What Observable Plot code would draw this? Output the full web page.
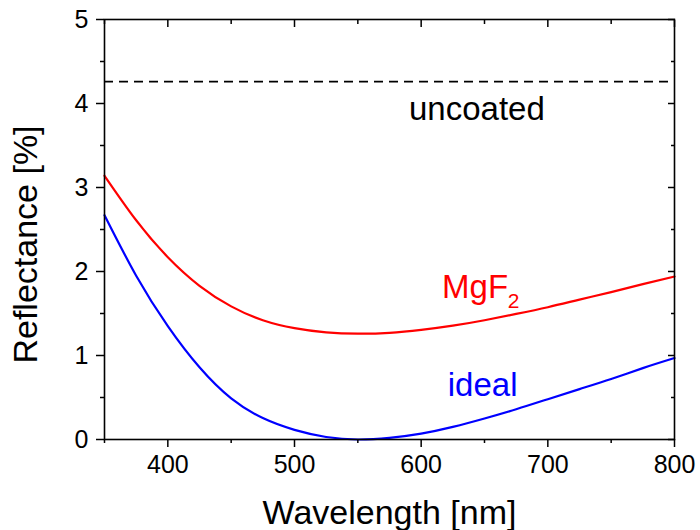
<!DOCTYPE html>
<html>
<head>
<meta charset="utf-8">
<script src="https://cdn.jsdelivr.net/npm/d3@7"></script>
<script src="https://cdn.jsdelivr.net/npm/@observablehq/plot@0.6"></script>
<style>
  html, body { margin: 0; padding: 0; background: #fff; }
</style>
</head>
<body>
<div id="chart"></div>
<script>
const wavelengths = [350,375,400,425,450,475,500,525,550,575,600,625,650,675,700,725,750,775,800];
const mgf2Reflectance = [3.14,2.61,2.17,1.83,1.585,1.42,1.325,1.275,1.26,1.27,1.305,1.355,1.42,1.495,1.575,1.665,1.755,1.85,1.94];
const idealReflectance = [2.67,1.95,1.35,0.86,0.49,0.255,0.115,0.03,0.00,0.02,0.07,0.15,0.25,0.36,0.48,0.60,0.72,0.85,0.97];
const uncoatedLevel = [4.26];
const xMajorTicks = [400,500,600,700,800];
const xMinorTicks = [350,450,550,650,750];
const yMajorTicks = [0,1,2,3,4,5];
const yMinorTicks = [0.5,1.5,2.5,3.5,4.5];
const centeredLabels = [{text: "uncoated", x: 644, y: 3.80, color: "black"}];
const startLabels = [
  {text: "MgF", x: 616.5, y: 1.69, color: "red"},
  {text: "ideal", x: 621, y: 0.52, color: "blue"}
];
const subscriptLabels = [{text: "2", x: 668.3, y: 1.565, color: "red"}];

const mgf2 = wavelengths.map((w, i) => ({w, r: mgf2Reflectance[i]}));
const ideal = wavelengths.map((w, i) => ({w, r: idealReflectance[i]}));

const chart = Plot.plot({
  width: 700,
  height: 530,
  marginLeft: 104,
  marginRight: 26,
  marginTop: 19,
  marginBottom: 91,
  x: {domain: [350, 800]},
  y: {domain: [0, 5]},
  style: {fontFamily: "'Liberation Sans', Arial, sans-serif", background: "white", color: "black"},
  marks: [
    Plot.ruleY(uncoatedLevel, {stroke: "black", strokeWidth: 1.6, strokeDasharray: "9,6"}),
    Plot.line(mgf2, {x: "w", y: "r", stroke: "#ff0000", strokeWidth: 2.2, curve: "natural"}),
    Plot.line(ideal, {x: "w", y: "r", stroke: "#0000ff", strokeWidth: 2.2, curve: "natural"}),
    Plot.text(centeredLabels, {x: "x", y: "y", text: "text", fill: "color", textAnchor: "middle", lineAnchor: "bottom", fontSize: 33}),
    Plot.text(startLabels, {x: "x", y: "y", text: "text", fill: "color", textAnchor: "start", lineAnchor: "bottom", fontSize: 33}),
    Plot.text(subscriptLabels, {x: "x", y: "y", text: "text", fill: "color", textAnchor: "start", lineAnchor: "bottom", fontSize: 21}),
    Plot.frame({stroke: "black", strokeWidth: 1.6}),
    Plot.axisX(xMajorTicks, {anchor: "bottom", tickSize: 8, tickPadding: 8, fontSize: 25, strokeWidth: 1.5, label: null, tickFormat: d => String(d)}),
    Plot.axisX(xMinorTicks, {anchor: "bottom", tickSize: 4, fill: "none", strokeWidth: 1.5, label: null}),
    Plot.axisX(xMajorTicks, {anchor: "top", tickSize: -7, fill: "none", strokeWidth: 1.5, label: null}),
    Plot.axisX(xMinorTicks, {anchor: "top", tickSize: -4, fill: "none", strokeWidth: 1.5, label: null}),
    Plot.axisY(yMajorTicks, {anchor: "left", tickSize: 8, tickPadding: 8, fontSize: 25, strokeWidth: 1.5, label: null, tickFormat: d => String(d)}),
    Plot.axisY(yMinorTicks, {anchor: "left", tickSize: 4, fill: "none", strokeWidth: 1.5, label: null}),
    Plot.axisY(yMajorTicks, {anchor: "right", tickSize: -7, fill: "none", strokeWidth: 1.5, label: null}),
    Plot.axisY(yMinorTicks, {anchor: "right", tickSize: -4, fill: "none", strokeWidth: 1.5, label: null}),
    Plot.text(["Wavelength [nm]"], {frameAnchor: "bottom", textAnchor: "middle", dy: 84, lineAnchor: "bottom", fontSize: 34}),
    Plot.text(["Reflectance [%]"], {frameAnchor: "left", textAnchor: "middle", dx: -68, dy: 15, rotate: -90, lineAnchor: "bottom", fontSize: 34})
  ]
});
document.getElementById("chart").appendChild(chart);
</script>
</body>
</html>
